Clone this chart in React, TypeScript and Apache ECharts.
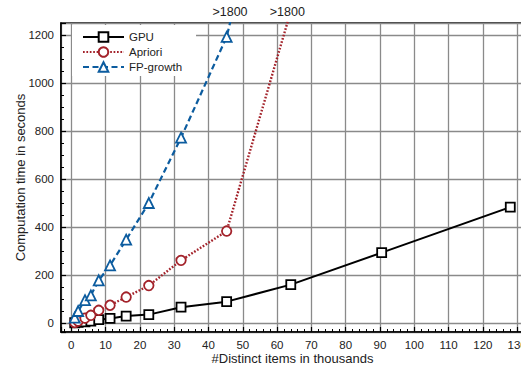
import React, { useEffect, useRef } from "react";
import * as echarts from "echarts";

const gpuX = [1, 2, 4, 5.7, 8, 11.3, 16, 22.6, 32, 45.3, 64, 90.5, 128];
const gpuY = [1, 3, 5, 8, 14, 19, 29, 35, 66, 89, 160, 293, 483];
const aprioriX = [1, 2, 4, 5.7, 8, 11.3, 16, 22.6, 32, 45.3, 64];
const aprioriY = [2, 8, 20, 32, 53, 74, 108, 156, 261, 383, 1300];
const fpX = [1, 2, 4, 5.7, 8, 11.3, 16, 22.6, 32, 45.3, 64];
const fpY = [22, 50, 95, 115, 178, 240, 347, 500, 772, 1192, 2300];
const seriesNames = ["GPU", "Apriori", "FP-growth"];
const overflowLabel = ">1800";

const X_MIN = -3;
const X_MAX = 132;
const Y_MIN = -37.5;
const Y_MAX = 1250;

const FONT = "Liberation Sans, Arial, Helvetica, sans-serif";
const RED = "#a3222a";
const BLUE = "#0c5c9f";

function zip(xs: number[], ys: number[]) {
  return xs.map((x, i) => [x, ys[i]]);
}

function exitX(xs: number[], ys: number[], top: number): number | null {
  for (let i = 0; i < ys.length - 1; i++) {
    if (ys[i] <= top && ys[i + 1] > top) {
      return xs[i] + ((top - ys[i]) / (ys[i + 1] - ys[i])) * (xs[i + 1] - xs[i]);
    }
  }
  return null;
}

function overflowMark(xs: number[], ys: number[]) {
  const ex = exitX(xs, ys, Y_MAX);
  if (ex == null) return undefined;
  return {
    symbol: "circle",
    symbolSize: 0,
    silent: true,
    label: {
      show: true,
      position: "top",
      distance: 5,
      formatter: overflowLabel,
      color: "#222",
      fontSize: 12.5,
      fontFamily: FONT,
    },
    data: [{ coord: [ex, Y_MAX] }],
  };
}

export default function App() {
  const ref = useRef<HTMLDivElement>(null);
  useEffect(() => {
    if (!ref.current) return;
    const chart = echarts.init(ref.current, undefined, { renderer: "svg" });
    const labelFmtX = (v: number) => (v >= 0 && Math.abs(v % 10) < 1e-6 ? String(v) : "");
    const labelFmtY = (v: number) => (v >= 0 && Math.abs(v % 200) < 1e-6 ? String(v) : "");
    chart.setOption({
      animation: false,
      backgroundColor: "#fff",
      grid: {
        left: 61,
        right: -3,
        top: 23,
        bottom: 39,
        outerBoundsMode: "none",
        containLabel: false,
        show: true,
        borderColor: "#000",
        borderWidth: 1.5,
        backgroundColor: "transparent",
      },
      legend: {
        orient: "vertical",
        left: 72,
        top: 25,
        backgroundColor: "#fff",
        padding: [6, 14, 3, 10],
        itemWidth: 41,
        itemHeight: 12,
        itemGap: 3,
        textStyle: { fontSize: 11.5, fontFamily: FONT, color: "#222" },
        data: seriesNames,
      },
      xAxis: {
        type: "value",
        min: X_MIN,
        max: X_MAX,
        splitNumber: 13,
        name: "#Distinct items in thousands",
        nameLocation: "middle",
        nameGap: 20,
        nameMoveOverlap: false,
        nameTextStyle: { fontSize: 13, fontFamily: FONT, color: "#222" },
        axisLine: { onZero: false, lineStyle: { color: "#000", width: 1.5 } },
        axisTick: { inside: true, length: 5, lineStyle: { color: "#000", width: 1.2 } },
        minorTick: { show: true, splitNumber: 5, length: 3, lineStyle: { color: "#000", width: 1 } },
        axisLabel: {
          formatter: labelFmtX,
          color: "#222",
          fontSize: 11.5,
          fontFamily: FONT,
          margin: 7,
          showMinLabel: false,
          showMaxLabel: false,
          hideOverlap: false,
        },
        splitLine: { show: true, lineStyle: { color: "#8a8a8a", width: 1.3 } },
      },
      yAxis: {
        type: "value",
        min: Y_MIN,
        max: Y_MAX,
        splitNumber: 6,
        name: "Computation time in seconds",
        nameLocation: "middle",
        nameGap: 34,
        nameMoveOverlap: false,
        nameTextStyle: { fontSize: 13, fontFamily: FONT, color: "#222" },
        axisLine: { show: true, onZero: false, lineStyle: { color: "#000", width: 1.5 } },
        axisTick: { show: true, inside: true, length: 5, lineStyle: { color: "#000", width: 1.2 } },
        minorTick: { show: true, splitNumber: 4, length: 3, lineStyle: { color: "#000", width: 1 } },
        axisLabel: {
          formatter: labelFmtY,
          color: "#222",
          fontSize: 11.5,
          fontFamily: FONT,
          margin: 7,
          showMinLabel: false,
          showMaxLabel: false,
        },
        splitLine: { show: true, lineStyle: { color: "#8a8a8a", width: 1.3 } },
      },
      series: [
        {
          name: seriesNames[0],
          type: "line",
          data: zip(gpuX, gpuY),
          symbol: "rect",
          symbolSize: 9,
          showAllSymbol: true,
          clip: true,
          lineStyle: { color: "#000", width: 2 },
          itemStyle: { color: "#fff", borderColor: "#000", borderWidth: 1.8 },
          z: 3,
        },
        {
          name: seriesNames[1],
          type: "line",
          data: zip(aprioriX, aprioriY),
          symbol: "circle",
          symbolSize: 9.5,
          showAllSymbol: true,
          clip: true,
          lineStyle: { color: RED, width: 2.4, type: [1.7, 1.7] },
          itemStyle: { color: "#fff", borderColor: RED, borderWidth: 1.8 },
          markPoint: overflowMark(aprioriX, aprioriY),
          z: 4,
        },
        {
          name: seriesNames[2],
          type: "line",
          data: zip(fpX, fpY),
          symbol: "triangle",
          symbolSize: 10,
          showAllSymbol: true,
          clip: true,
          lineStyle: { color: BLUE, width: 2.2, type: [6, 3.5] },
          itemStyle: { color: "#fff", borderColor: BLUE, borderWidth: 1.8 },
          markPoint: overflowMark(fpX, fpY),
          z: 5,
        },
      ],
    });
    return () => chart.dispose();
  }, []);
  return (
    <div
      ref={ref}
      style={{ position: "fixed", left: 0, top: 0, width: 521, height: 371, background: "#fff" }}
    />
  );
}
